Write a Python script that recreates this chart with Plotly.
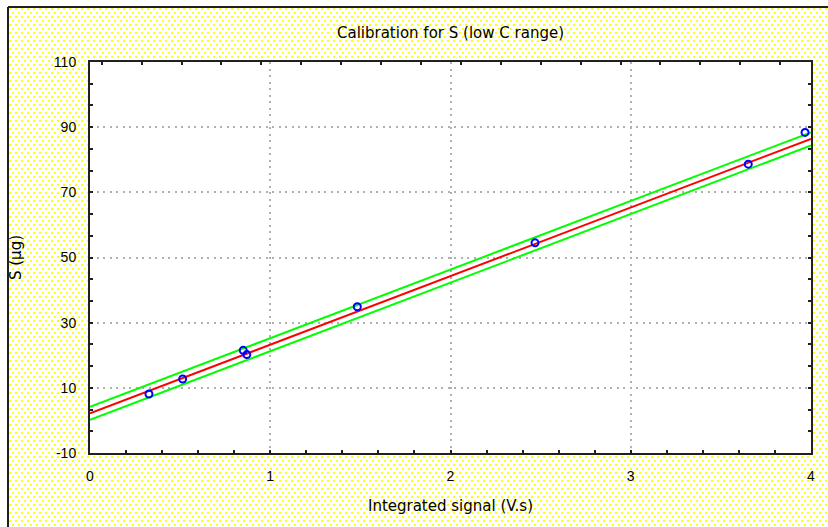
import base64
import plotly.graph_objects as go

# Calibration measurements: integrated detector signal vs. sulfur mass
signal_vs = [0.327, 0.514, 0.85, 0.87, 1.483, 2.469, 3.652, 3.967]
sulfur_ug = [8.1, 12.7, 21.5, 20.2, 34.9, 54.5, 78.65, 88.4]

# Fitted calibration line and its band, given at the ends of the x range
fit_x = [0.0, 4.0]
fit_y = [2.2, 86.4]
band_upper = [4.2, 88.4]
band_lower = [0.2, 84.4]

x_ticks = [0, 1, 2, 3, 4]
x_tick_text = ["0", "1", "2", "3", "4"]
y_ticks = [-10, 10, 30, 50, 70, 90, 110]
y_tick_text = ["-10", "10", "30", "50", "70", "90", "110"]

W, H = 828, 527
ML, MR, MT, MB = 90, 17, 62, 74
PW, PH = W - ML - MR, H - MT - MB

TICK_FONT = "Liberation Sans, Arial, sans-serif"
TITLE_FONT = "DejaVu Sans, Verdana, sans-serif"

# Dotted yellow backdrop, window frame along the top and left, white plot area
svg = f'''<svg xmlns="http://www.w3.org/2000/svg" width="{W}" height="{H}" viewBox="0 0 {W} {H}">
<defs><pattern id="p" x="9" y="8" width="6" height="8" patternUnits="userSpaceOnUse">
<rect width="6" height="8" fill="#ffffff"/>
<rect x="0" y="0" width="2" height="2" fill="#ffff10"/>
<rect x="3" y="4" width="2" height="2" fill="#ffff10"/>
</pattern></defs>
<rect width="{W}" height="{H}" fill="#ffffff"/>
<rect x="9" y="8" width="{W}" height="{H}" fill="url(#p)"/>
<line x1="8" y1="7" x2="{W}" y2="7" stroke="#202020" stroke-width="2"/>
<line x1="8" y1="7" x2="8" y2="{H}" stroke="#202020" stroke-width="2"/>
<rect x="{ML}" y="{MT}" width="{PW}" height="{PH}" fill="#ffffff"/>
</svg>'''
bg_src = "data:image/svg+xml;base64," + base64.b64encode(svg.encode()).decode()

fig = go.Figure()

fig.add_trace(go.Scatter(x=fit_x, y=band_upper, mode="lines",
                         line=dict(color="#00ff00", width=2), hoverinfo="skip"))
fig.add_trace(go.Scatter(x=fit_x, y=band_lower, mode="lines",
                         line=dict(color="#00ff00", width=2), hoverinfo="skip"))
fig.add_trace(go.Scatter(x=fit_x, y=fit_y, mode="lines",
                         line=dict(color="#ff0000", width=2), hoverinfo="skip"))
fig.add_trace(go.Scatter(x=signal_vs, y=sulfur_ug, mode="markers",
                         marker=dict(symbol="circle-open", size=7, color="#0000ff",
                                     line=dict(width=2, color="#0000ff"))))
# empty trace so the top tick axis is drawn
fig.add_trace(go.Scatter(x=[], y=[], xaxis="x2", yaxis="y", hoverinfo="skip"))

grid = dict(showgrid=True, gridcolor="#b0b0b0", gridwidth=2, griddash="2px,4.5px")

fig.update_layout(
    width=W, height=H,
    margin=dict(l=ML, r=MR, t=MT, b=MB),
    showlegend=False,
    paper_bgcolor="#ffffff",
    plot_bgcolor="#ffffff",
    font=dict(family=TICK_FONT, size=14, color="#000000"),
    title=dict(text="Calibration for S (low C range)", x=0.5, xref="paper",
               y=1 - 33 / H, yref="container", yanchor="middle", xanchor="center",
               font=dict(family=TITLE_FONT, size=15, color="#000000")),
    xaxis=dict(range=[0, 4], tickmode="array", tickvals=x_ticks, ticktext=x_tick_text,
               ticks="inside", ticklen=3, tickwidth=2, tickcolor="#202020",
               showline=True, linecolor="#202020", linewidth=2, mirror=True,
               zeroline=False, ticklabelstandoff=9,
               tickfont=dict(family=TICK_FONT, size=14),
               minor=dict(dtick=0.2, tick0=0, ticks="inside", ticklen=3, tickwidth=2,
                          tickcolor="#202020", showgrid=False),
               title=dict(text="Integrated signal (V.s)", standoff=18,
                          font=dict(family=TITLE_FONT, size=15)),
               **grid),
    xaxis2=dict(range=[0, 4], overlaying="x", side="top", tickmode="linear",
                tick0=0.065, dtick=0.2214, ticks="inside", ticklen=3, tickwidth=2,
                tickcolor="#202020", showticklabels=False, showgrid=False,
                showline=False, zeroline=False),
    yaxis=dict(range=[-10, 110], tickmode="array", tickvals=y_ticks, ticktext=y_tick_text,
               ticks="inside", ticklen=3, tickwidth=2, tickcolor="#202020",
               showline=True, linecolor="#202020", linewidth=2, mirror="ticks",
               zeroline=False, ticklabelstandoff=9,
               tickfont=dict(family=TICK_FONT, size=14),
               minor=dict(dtick=20 / 3, tick0=-10, ticks="inside", ticklen=3, tickwidth=2,
                          tickcolor="#202020", showgrid=False),
               title=dict(text="S (µg)", standoff=29, font=dict(family=TITLE_FONT, size=15)),
               **grid),
    images=[dict(source=bg_src, xref="paper", yref="paper",
                 x=-ML / PW, y=1 + MT / PH, sizex=W / PW, sizey=H / PH,
                 xanchor="left", yanchor="top", sizing="stretch", layer="below")],
)

fig.write_html("out.html")
